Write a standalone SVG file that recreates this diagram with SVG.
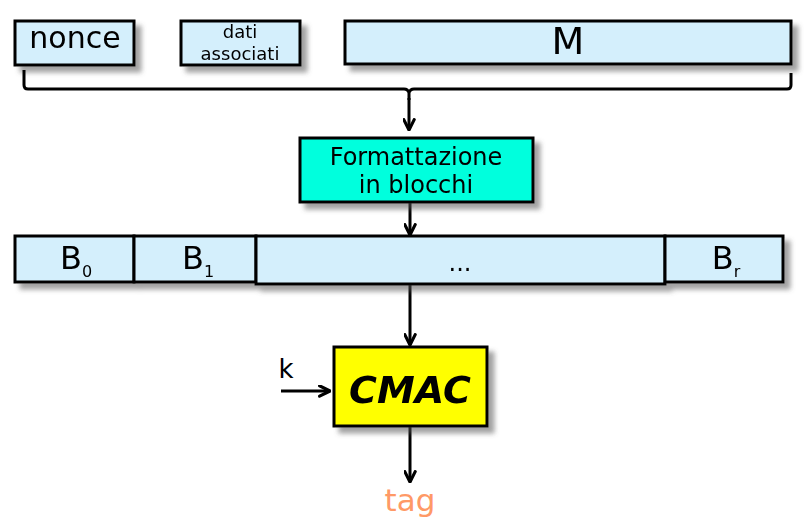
<svg xmlns="http://www.w3.org/2000/svg" width="808" height="528" viewBox="0 0 808 528">
<defs>
<filter id="sh" x="-10%" y="-20%" width="130%" height="160%">
<feGaussianBlur in="SourceAlpha" stdDeviation="2.5"/>
<feOffset dx="6" dy="6" result="b"/>
<feComponentTransfer in="b" result="c"><feFuncA type="linear" slope="0.55"/></feComponentTransfer>
<feFlood flood-color="#555"/>
<feComposite in2="c" operator="in" result="s"/>
<feMerge><feMergeNode in="s"/><feMergeNode in="SourceGraphic"/></feMerge>
</filter>
<marker id="ah" viewBox="0 0 10 10" refX="9" refY="5" markerWidth="13" markerHeight="13" markerUnits="userSpaceOnUse" orient="auto">
<path d="M1,1 L9,5 L1,9" fill="none" stroke="#000" stroke-width="2.4" stroke-linecap="round" stroke-linejoin="round"/>
</marker>
<style>
.bx{fill:#d4effc;stroke:#000;stroke-width:3}
.t{font-family:"DejaVu Sans","Liberation Sans",sans-serif;fill:#000;text-anchor:middle}
.ln{stroke:#000;stroke-width:3;fill:none}
</style>
</defs>
<g id="nonce" filter="url(#sh)"><rect class="bx" x="15" y="21" width="119" height="44"/><text class="t" x="75" y="48" font-size="30">nonce</text></g>
<g id="dati" filter="url(#sh)"><rect class="bx" x="181" y="21" width="119" height="44"/><text class="t" x="240" y="38" font-size="18">dati</text><text class="t" x="240" y="60" font-size="18">associati</text></g>
<g id="M" filter="url(#sh)"><rect class="bx" x="345" y="21" width="446" height="43"/><text class="t" x="568" y="54" font-size="38">M</text></g>
<g id="connectors">
<path class="ln" d="M24,70 L24,85 Q24,89 28,89 L404,89 Q408,89 409,93 L409,100 M409,93 Q410,89 414,89 L787,89 Q791,89 791,85 L791,73"/>
<line class="ln" x1="409" y1="98" x2="409" y2="130" marker-end="url(#ah)"/>
<line class="ln" x1="410" y1="203" x2="410" y2="235" marker-end="url(#ah)"/>
<line class="ln" x1="410" y1="285" x2="410" y2="345" marker-end="url(#ah)"/>
<line class="ln" x1="281" y1="391" x2="330" y2="391" marker-end="url(#ah)"/>
<line class="ln" x1="410" y1="427" x2="410" y2="482" marker-end="url(#ah)"/>
</g>
<g id="format" filter="url(#sh)"><rect x="300" y="138" width="233" height="64" fill="#00ffdd" stroke="#000" stroke-width="3"/><text class="t" x="416" y="165" font-size="24">Formattazione</text><text class="t" x="416" y="193" font-size="24">in blocchi</text></g>
<g id="blocks" filter="url(#sh)">
<rect class="bx" x="15" y="236" width="119" height="46"/>
<rect class="bx" x="134" y="236" width="122" height="46"/>
<rect class="bx" x="256" y="236" width="409" height="48"/>
<rect class="bx" x="665" y="236" width="118" height="46"/>
<text class="t" x="76" y="269" font-size="32">B<tspan font-size="16" dy="8">0</tspan></text>
<text class="t" x="198" y="269" font-size="32">B<tspan font-size="16" dy="8">1</tspan></text>
<text class="t" x="460" y="271" font-size="24">...</text>
<text class="t" x="726" y="269" font-size="32">B<tspan font-size="16" dy="8">r</tspan></text>
</g>
<g id="cmac" filter="url(#sh)"><rect x="334" y="347" width="153" height="79" fill="#ffff00" stroke="#000" stroke-width="3"/><text class="t" x="410" y="403" font-size="38" font-weight="bold" font-style="italic">CMAC</text></g>
<g id="k"><text class="t" x="286" y="378" font-size="26">k</text></g>
<g id="tag"><text class="t" x="410" y="511" font-size="31" style="fill:#ff9966">tag</text></g>
</svg>
